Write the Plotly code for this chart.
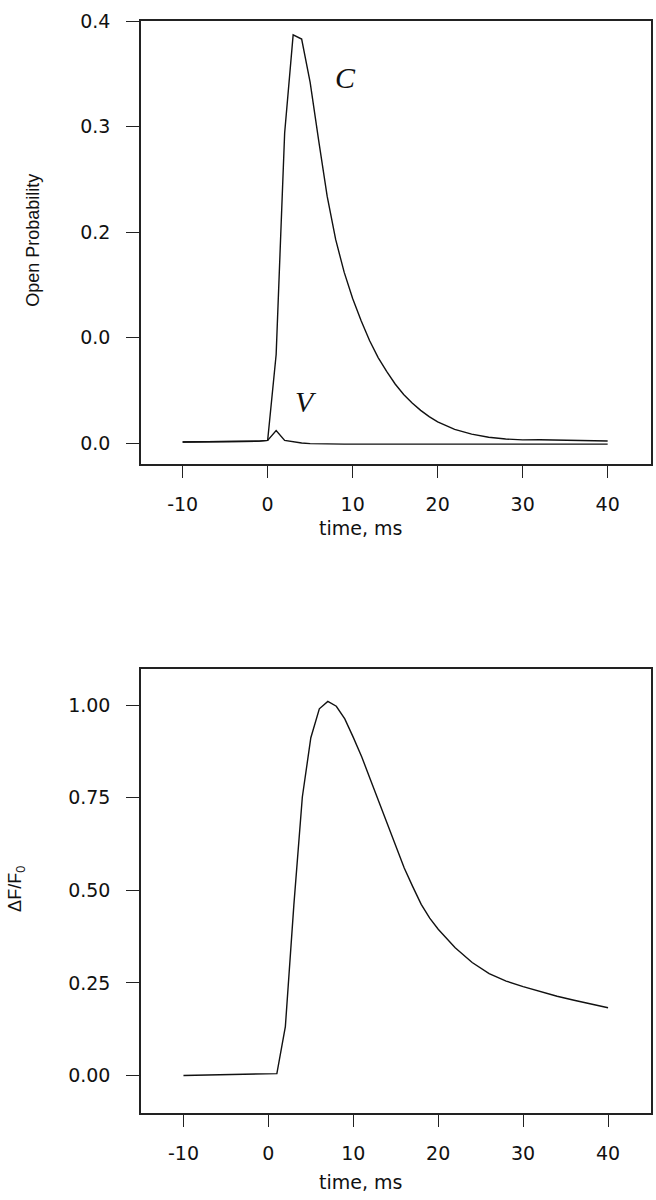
import plotly.graph_objects as go

# top panel: open probability, C and V curves
t_top = [-10, -5, -1, 0, 1, 2, 3, 4, 5, 6, 7, 8, 9, 10, 11, 12, 13, 14, 15, 16,
         17, 18, 19, 20, 22, 24, 26, 28, 30, 32, 35, 40]
p_C = [0.001, 0.0012, 0.0018, 0.0025, 0.084, 0.294, 0.387, 0.383, 0.342, 0.287,
       0.234, 0.193, 0.162, 0.137, 0.116, 0.097, 0.081, 0.068, 0.056, 0.046,
       0.038, 0.031, 0.025, 0.02, 0.013, 0.0085, 0.0055, 0.0038, 0.003, 0.0032,
       0.0028, 0.002]
p_V = [0.001, 0.0012, 0.0018, 0.0025, 0.0119, 0.0025, 0.001, 0.0, -0.0005, -0.0008,
       -0.001, -0.001, -0.001, -0.001, -0.001, -0.001, -0.001, -0.001, -0.001, -0.001,
       -0.001, -0.001, -0.001, -0.001, -0.001, -0.001, -0.001, -0.001, -0.001, -0.001,
       -0.001, -0.001]
top_ticks = [0, 0.1, 0.2, 0.3, 0.4]
top_ticktext = ["0.0", "0.0", "0.2", "0.3", "0.4"]

# bottom panel: fluorescence dF/F0
t_bot = [-10, 1, 2, 3, 4, 5, 6, 7, 8, 9, 10, 11, 12, 13, 14, 15, 16, 17, 18, 19,
         20, 22, 24, 26, 28, 30, 32, 34, 36, 38, 40]
dff = [0.0, 0.005, 0.132, 0.46, 0.752, 0.912, 0.99, 1.01, 0.997, 0.963, 0.913,
       0.86, 0.80, 0.74, 0.675, 0.615, 0.56, 0.51, 0.462, 0.425, 0.395, 0.345,
       0.305, 0.275, 0.255, 0.24, 0.226, 0.214, 0.203, 0.193, 0.183]
bot_ticks = [0, 0.25, 0.5, 0.75, 1.0]
bot_ticktext = ["0.00", "0.25", "0.50", "0.75", "1.00"]

x_ticks = [-10, 0, 10, 20, 30, 40]
x_ticktext = ["-10", "0", "10", "20", "30", "40"]

W, H = 656, 1200
tickfont = dict(family="DejaVu Sans", size=19, color="#111")
line = dict(color="#111", width=1.4)

fig = go.Figure()
fig.add_trace(go.Scatter(x=t_top, y=p_C, mode="lines", line=line, xaxis="x", yaxis="y"))
fig.add_trace(go.Scatter(x=t_top, y=p_V, mode="lines", line=line, xaxis="x", yaxis="y"))
fig.add_trace(go.Scatter(x=t_bot, y=dff, mode="lines", line=line, xaxis="x2", yaxis="y2"))

xdom = [141 / W, 650.5 / W]
axis_common = dict(showline=True, linecolor="#222", linewidth=1.5, mirror=True,
                   ticks="outside", ticklen=13, tickwidth=1.3, tickcolor="#222",
                   showgrid=False, zeroline=False, tickfont=tickfont,
                   ticklabeloverflow="allow")

fig.update_layout(
    width=W, height=H,
    margin=dict(l=0, r=0, t=0, b=0),
    paper_bgcolor="white", plot_bgcolor="white",
    showlegend=False,
    xaxis=dict(domain=xdom, range=[-14.9, 45.04], tickvals=x_ticks, ticktext=x_ticktext,
               anchor="y", ticklabelstandoff=10, **axis_common),
    yaxis=dict(domain=[1 - 456.7 / H, 1 - 10 / H], range=[-0.0194, 0.4002],
               tickvals=top_ticks, ticktext=top_ticktext, anchor="x",
               ticklabelstandoff=12, **axis_common),
    xaxis2=dict(domain=xdom, range=[-15.0, 45.0], tickvals=x_ticks, ticktext=x_ticktext,
                anchor="y2", ticklabelstandoff=10, **axis_common),
    yaxis2=dict(domain=[1 - 1111.7 / H, 1 - 664.3 / H], range=[-0.1, 1.097],
                tickvals=bot_ticks, ticktext=bot_ticktext, anchor="x2",
                ticklabelstandoff=12, **axis_common),
)

title_font = dict(family="Liberation Sans", size=18, color="#111")
centered = dict(xref="paper", yref="paper", xanchor="center", yanchor="middle", showarrow=False)
fig.add_annotation(text="Open Probability", x=33 / W, y=1 - 232 / H, textangle=-90,
                   font=title_font, **centered)
fig.add_annotation(text="ΔF/F<sub>0</sub>", x=17 / W, y=1 - 886 / H, textangle=-90,
                   font=title_font, **centered)
for yc in [522, 1182]:
    fig.add_annotation(text="time, ms", x=360 / W, y=1 - yc / H,
                       font=dict(family="DejaVu Sans", size=19, color="#111"), **centered)

label_font = dict(family="Liberation Serif", size=30, color="#111", style="italic")
fig.add_annotation(text="C", x=9.1, y=0.3465, xref="x", yref="y", showarrow=False, font=label_font)
fig.add_annotation(text="V", x=4.5, y=0.039, xref="x", yref="y", showarrow=False, font=label_font)

fig.write_html("out.html", config={"displayModeBar": False},
               post_script="document.body.style.margin='0';")
